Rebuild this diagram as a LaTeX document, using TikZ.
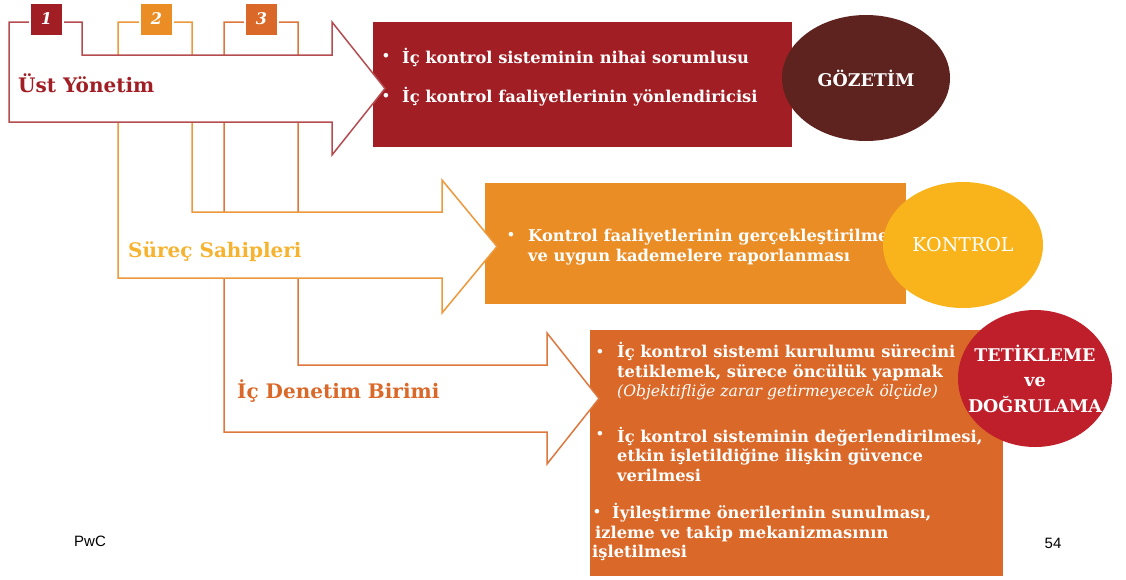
\documentclass[tikz,border=0pt]{standalone}
\usepackage{fontspec}
\setmainfont{DejaVu Serif}
\setsansfont{Liberation Sans}
\usetikzlibrary{shapes.geometric}

\definecolor{ustred}{HTML}{A11F24}
\definecolor{gozbrown}{HTML}{5E231F}
\definecolor{surorange}{HTML}{EA8D25}
\definecolor{kontgold}{HTML}{F8B41A}
\definecolor{surlabel}{HTML}{F6B330}
\definecolor{icrust}{HTML}{DA6828}
\definecolor{tetred}{HTML}{BF1E2B}

\newcommand{\fsz}[2]{\fontsize{#1}{#2}\selectfont}

\begin{document}
\begin{tikzpicture}[x=1pt, y=-1pt,
    shaft/.style={fill=white, line width=1.5pt, line join=miter},
    tab/.style={draw=white, line width=2pt, minimum width=33pt, minimum height=33pt,
      inner sep=0pt, text=white, font=\fsz{16}{18}\bfseries\itshape},
    lbl/.style={anchor=base west, inner sep=0pt, font=\fsz{20}{24}\bfseries},
    item/.style={anchor=west, inner sep=0pt, align=left, text=white,
      font=\fsz{16.3}{19.5}\bfseries},
    dot/.style={inner sep=0pt, text=white, font=\fsz{13}{15}\bfseries},
    blob/.style={ellipse, inner sep=0pt},
    blobtext/.style={inner sep=0pt, text=white, align=center},
    foot/.style={inner sep=0pt, font=\sffamily\fsz{15}{17}}]
  \useasboundingbox (0,0) rectangle (1126,579);
  %% \draw [help lines] (0,0) grid[step=50] (1126,579);

  % colored boxes
  \fill [ustred] (373,22) rectangle (792,147);
  \fill [surorange] (485,183) rectangle (906,304);
  \fill [icrust] (590,330) rectangle (1003,576);

  % block arrows, last one drawn on top
  \draw [shaft, draw=icrust!90] (224,22) -- (298,22) -- (298,365) -- (547,365)
    -- (547,333) -- (599,398.5) -- (547,464) -- (547,432) -- (224,432) -- cycle;
  \draw [shaft, draw=surorange!90] (118,22) -- (192,22) -- (192,212) -- (442,212)
    -- (442,180) -- (497,246.5) -- (442,313) -- (442,278) -- (118,278) -- cycle;
  \draw [shaft, draw=ustred!80] (9,22) -- (82,22) -- (82,55) -- (332,55)
    -- (332,22) -- (385,88.5) -- (332,155) -- (332,122) -- (9,122) -- cycle;

  \node [tab, fill=ustred] (tab1) at (46.5,19) {1};
  \node [tab, fill=surorange] (tab2) at (156.5,19) {2};
  \node [tab, fill=icrust] (tab3) at (261.5,19) {3};

  \node [lbl, text=ustred] (ust) at (18,92) {Üst Yönetim};
  \node [lbl, text=surlabel] (surec) at (128,257) {Süreç Sahipleri};
  \node [lbl, text=icrust] (denetim) at (237,398) {İç Denetim Birimi};

  % Üst Yönetim
  \node [dot] (d11) at (386,57) {\textbullet};
  \node [item] (i11) at (402,57) {İç kontrol sisteminin nihai sorumlusu};
  \node [dot] (d12) at (386,97) {\textbullet};
  \node [item] (i12) at (402,97) {İç kontrol faaliyetlerinin yönlendiricisi};

  % Süreç Sahipleri
  \node [dot] (d21) at (511,236) {\textbullet};
  \node [item] (i21) at (528,247) {Kontrol faaliyetlerinin gerçekleştirilmesi\\
    ve uygun kademelere raporlanması};

  % İç Denetim
  \node [dot] (d31) at (600,353) {\textbullet};
  \node [item] (i31) at (617,371.5) {İç kontrol sistemi kurulumu sürecini\\
    tetiklemek, sürece öncülük yapmak\\
    {\mdseries\itshape\fsz{15.6}{19.5}(Objektifliğe zarar getirmeyecek ölçüde)}};
  \node [dot] (d32) at (600,435) {\textbullet};
  \node [item] (i32) at (617,454) {İç kontrol sisteminin değerlendirilmesi,\\
    etkin işletildiğine ilişkin güvence\\ verilmesi};
  \node [dot] (d33) at (597,513) {\textbullet};
  \node [item] (i33) at (592,532) {\hspace{20pt}İyileştirme önerilerinin sunulması,\\
    \hspace{3pt}izleme ve takip mekanizmasının\\ işletilmesi};

  % circles
  \node [blob, fill=gozbrown, minimum width=168pt, minimum height=126pt] (gozetim) at (866,78) {};
  \node [blobtext, font=\fsz{17.5}{20}\bfseries] (gozetimtxt) at (gozetim.center) {GÖZETİM};
  \node [blob, fill=kontgold, minimum width=160pt, minimum height=126pt] (kontrol) at (963,245) {};
  \node [blobtext, font=\fsz{19}{22}] (kontroltxt) at (kontrol.center) {KONTROL};
  \node [blob, fill=tetred, minimum width=154pt, minimum height=137pt] (tetik) at (1035,378.5) {};
  \node [blobtext, font=\fsz{17.5}{25.5}\bfseries] (tetiktxt) at (tetik.center)
    {TETİKLEME\\ ve\\ DOĞRULAMA};

  \node [foot] (pwc) at (90,541) {PwC};
  \node [foot] (page) at (1053,543) {54};
\end{tikzpicture}
\end{document}
